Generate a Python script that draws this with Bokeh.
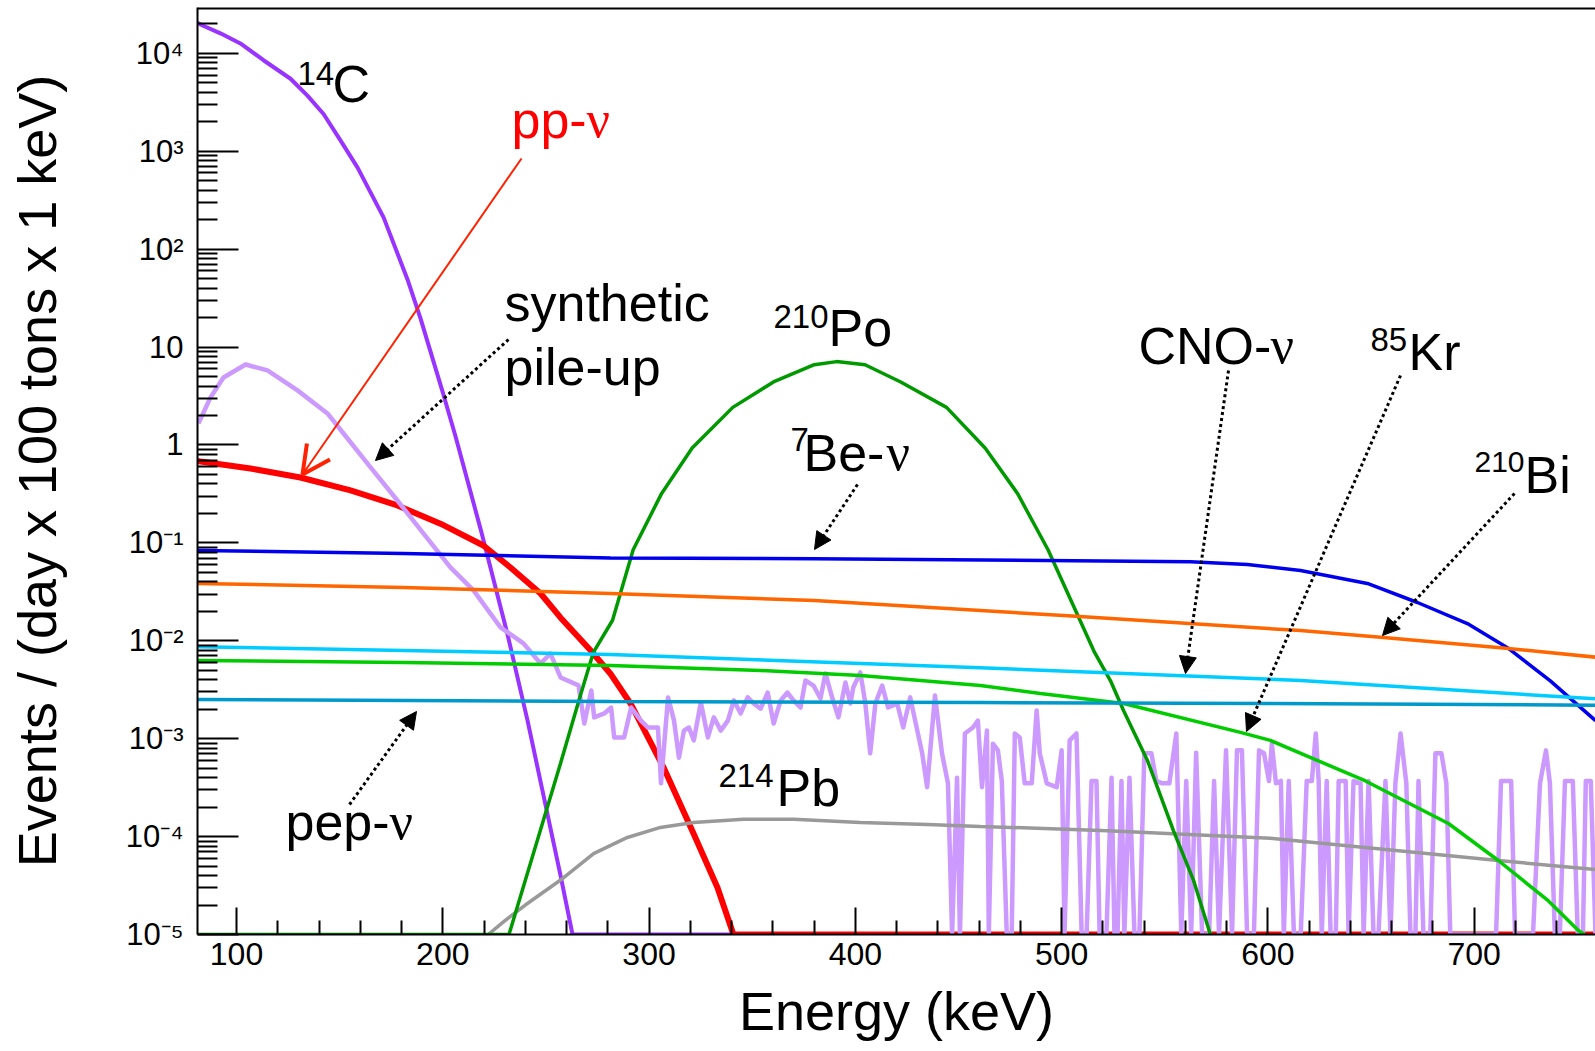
import math
from bokeh.plotting import figure
from bokeh.models import (Range1d, FixedTicker, Label, Arrow, NormalHead, OpenHead,
                          Span, CustomJSTickFormatter)
from bokeh.embed import file_html
from bokeh.resources import INLINE

# ---------------- data (energy in keV, rate in events/(day x 100 t x keV)) ----------------
c14_E = [81.1, 82.5, 92.2, 101.9, 113.1, 126.2, 134.4, 142.2, 150.4, 158.7, 171.3, 182.9,
         189.2, 200.3, 206.2, 218.3, 231.4, 241.1, 257.1, 262.9, 758.8]
c14_y = [2.05e4, 1.97e4, 1.60e4, 1.26e4, 8.5e3, 5.5e3, 3.7e3, 2.4e3, 1.29e3, 680, 211, 49,
         19.6, 3.28, 1.22, 0.139, 0.0116, 1.53e-3, 4.0e-5, 1e-5, 1e-5]

pp_E = [81.1, 82.5, 106.8, 131.0, 155.3, 178.0, 200.3, 219.7, 232.8, 247.4, 257.1, 271.6,
        281.3, 291.0, 307.0, 321.5, 333.2, 340.9, 758.8]
pp_y = [0.685, 0.678, 0.575, 0.465, 0.343, 0.241, 0.152, 0.094, 0.056, 0.0304, 0.0172,
        8.0e-3, 4.6e-3, 2.29e-3, 5.1e-4, 1.08e-4, 3.0e-5, 1e-5, 1e-5]

pu_E = [81.6, 87.4, 93.7, 104.4, 115.0, 129.6, 144.1, 151.9, 165.0, 178.0, 190.6, 203.7,
        214.9, 228.0, 239.1, 247.4, 252.2, 257.1, 265.8,
        268.6, 272.0, 273.4, 278.3, 281.6, 283.1, 287.9, 291.3, 296.1, 299.5, 304.3, 305.8,
        309.2, 312.1, 314.5, 316.9, 319.3, 321.7, 325.1, 328.5, 331.4, 334.8, 338.2, 341.1,
        344.4, 347.8, 350.7, 354.1, 357.5, 360.4, 363.8, 367.1, 370.0, 373.4, 375.8, 379.7,
        383.1, 385.5, 388.9, 391.8, 395.2, 397.6, 399.0, 402.4, 404.8, 407.2, 409.7, 413.0,
        415.9, 420.3, 423.2, 426.6, 429.0, 432.4, 434.8, 438.6, 442.0, 444.9, 446.9, 449.3,
        450.7, 453.1, 457.0, 459.4,
        461.4, 463.8, 464.7, 466.7, 469.1, 471.0, 473.4, 475.8, 477.3, 479.7, 482.1, 485.5,
        487.9, 489.4, 492.8, 497.6, 500.0, 501.4, 503.9, 507.2, 509.7, 512.1, 514.5, 516.9,
        518.4, 521.7, 524.2, 525.6, 527.1, 529.0, 530.4, 532.9, 535.3, 537.7, 540.1, 543.5,
        545.9, 548.8, 552.2, 555.6, 558.0, 560.4, 562.8, 565.2, 568.1, 571.5, 573.9, 576.3,
        579.7, 582.6, 585.0, 587.4, 589.9, 593.2, 595.7,
        598.1, 600.5, 601.9, 603.9, 606.3, 607.7, 610.1, 612.6, 615.9, 618.8, 621.3, 623.2,
        624.6, 626.1, 628.5, 630.4, 632.9, 634.3, 637.7, 639.1, 641.5, 644.9, 646.4, 648.8,
        651.2, 653.6, 657.0, 659.4, 661.8, 664.3, 667.1, 669.1, 671.5, 673.0, 675.4, 678.7,
        681.2, 684.1, 686.5, 688.4, 710.6, 713.0, 717.9, 719.8, 728.5, 731.9, 734.8, 736.7,
        739.1, 741.5, 744.0, 747.8, 750.2, 752.7, 754.1, 756.5, 758.8]
pu_y = [1.66, 3.06, 4.89, 6.64, 5.77, 3.61, 2.10, 1.31, 0.589, 0.271, 0.125, 0.0561,
        0.0327, 0.0137, 9.4e-3, 5.86e-3, 7.4e-3, 4.22e-3, 3.5e-3,
        1.43e-3, 3.11e-3, 1.65e-3, 1.81e-3, 2.08e-3, 1.03e-3, 1.03e-3, 2.08e-3, 1.53e-3,
        1.30e-3, 1.30e-3, 3.5e-4, 2.64e-3, 1.53e-3, 6.4e-4, 1.21e-3, 1.30e-3, 9.6e-4,
        2.34e-3, 1.03e-3, 1.65e-3, 1.21e-3, 1.53e-3, 2.46e-3, 1.81e-3, 2.64e-3, 2.29e-3,
        2.03e-3, 2.96e-3, 1.43e-3, 2.46e-3, 2.96e-3, 2.46e-3, 2.08e-3, 3.93e-3, 3.49e-3,
        2.57e-3, 4.64e-3, 2.57e-3, 1.65e-3, 3.75e-3, 2.29e-3, 3.33e-3, 4.75e-3, 2.34e-3,
        7.1e-4, 2.29e-3, 3.49e-3, 2.08e-3, 2.29e-3, 1.30e-3, 2.64e-3, 1.53e-3, 7.1e-4,
        3.2e-4, 2.76e-3, 7.1e-4, 3.5e-4, 1e-5, 4.0e-4, 1e-5, 1.13e-3, 1.30e-3, 1.53e-3,
        3.2e-4, 1.21e-3, 1e-5, 8.9e-4, 7.6e-4, 3.7e-4, 1e-5, 1e-5, 1.13e-3, 1.03e-3, 3.5e-4,
        3.5e-4, 1.94e-3, 7.1e-4, 3.5e-4, 3.2e-4, 7.6e-4, 1e-5, 9.6e-4, 1.13e-3, 1e-5, 1e-5,
        3.7e-4, 3.7e-4, 1e-5, 1e-5, 4.0e-4, 1e-5, 1e-5, 3.7e-4, 1e-5, 4.0e-4, 1e-5, 1e-5,
        7.1e-4, 7.1e-4, 3.7e-4, 3.5e-4, 3.5e-4, 1.13e-3, 1e-5, 3.7e-4, 1e-5, 7.2e-4, 1e-5,
        1e-5, 3.7e-4, 1e-5, 7.6e-4, 1e-5, 7.6e-4, 7.6e-4, 1e-5, 1e-5, 7.6e-4,
        7.1e-4, 3.7e-4, 8.9e-4, 3.5e-4, 3.7e-4, 1e-5, 3.7e-4, 1e-5, 1e-5, 3.7e-4, 3.7e-4,
        1.13e-3, 3.7e-4, 1e-5, 3.7e-4, 1e-5, 1e-5, 3.7e-4, 3.7e-4, 1e-5, 3.7e-4, 3.5e-4,
        1e-5, 3.7e-4, 1e-5, 1e-5, 3.7e-4, 1e-5, 3.5e-4, 1.13e-3, 3.5e-4, 1e-5, 1e-5, 3.7e-4,
        1e-5, 1e-5, 7.1e-4, 7.1e-4, 3.5e-4, 1e-5, 1e-5, 3.7e-4, 3.7e-4, 1e-5, 1e-5, 3.5e-4,
        7.6e-4, 3.5e-4, 1e-5, 1e-5, 3.7e-4, 3.7e-4, 1e-5, 1e-5, 3.7e-4, 3.7e-4, 1e-5]

po_E = [81.1, 232.1, 257.1, 266.7, 273.0, 282.3, 292.3, 306.1, 320.9, 340.6, 360.3, 380.1,
        390.9, 404.7, 422.0, 444.2, 462.9, 478.6, 493.4, 515.7, 523.7, 530.0, 541.6, 554.2,
        563.9, 572.1]
po_y = [1e-5, 1e-5, 5.6e-4, 2.76e-3, 7.6e-3, 0.0162, 0.085, 0.32, 0.93, 2.42, 4.4, 6.6,
        7.1, 6.6, 4.4, 2.42, 0.93, 0.32, 0.085, 7.8e-3, 3.9e-3, 1.94e-3, 6.0e-4, 1.15e-4,
        3.6e-5, 1e-5]

be_E = [81.1, 181.0, 281.3, 380.2, 562.4, 590.0, 615.8, 648.2, 672.5, 696.7, 716.1, 736.9,
        758.8]
be_y = [0.0836, 0.078, 0.070, 0.069, 0.064, 0.060, 0.0523, 0.0385, 0.0246, 0.0150, 8.5e-3,
        3.9e-3, 1.53e-3]

bi_E = [81.1, 181.0, 281.3, 380.2, 503.0, 615.8, 656.0, 712.7, 758.8]
bi_y = [0.0385, 0.035, 0.0304, 0.0258, 0.018, 0.0127, 0.0108, 8.5e-3, 6.8e-3]

cno_E = [81.1, 181.0, 281.3, 460.6, 615.8, 758.8]
cno_y = [8.7e-3, 7.96e-3, 7.25e-3, 5.3e-3, 3.93e-3, 2.55e-3]

kr_E = [81.1, 181.0, 281.3, 354.0, 402.5, 460.6, 489.7, 530.0, 586.7, 601.2, 647.3, 687.5,
        711.7, 736.0, 750.5, 753.5]
kr_y = [6.3e-3, 6.0e-3, 5.6e-3, 4.97e-3, 4.43e-3, 3.49e-3, 2.89e-3, 2.29e-3, 1.16e-3,
        9.6e-4, 3.7e-4, 1.36e-4, 5.7e-5, 2.2e-5, 1.1e-5, 1e-5]

pep_E = [81.1, 281.3, 460.6, 600.0, 758.8]
pep_y = [2.51e-3, 2.40e-3, 2.34e-3, 2.29e-3, 2.2e-3]

pb_E = [222.0, 230.0, 240.0, 257.1, 273.1, 289.5, 305.5, 321.5, 345.8, 370.0, 402.5, 435.0,
        460.6, 522.2, 601.2, 711.7, 758.8]
pb_y = [1e-5, 1.38e-5, 2.0e-5, 3.6e-5, 6.7e-5, 9.8e-5, 1.24e-4, 1.39e-4, 1.50e-4, 1.50e-4,
        1.39e-4, 1.33e-4, 1.27e-4, 1.15e-4, 9.6e-5, 5.7e-5, 4.6e-5]

x_major = [100, 200, 300, 400, 500, 600, 700]
x_minor = [v for v in range(120, 760, 20) if v % 100 != 0]
y_exps = [4, 3, 2, 1, 0, -1, -2, -3, -4, -5]

# ---------------- layout ----------------
W, H = 1595, 1051
FL, FR, FT, FB = 197, 1595, 7, 934
X0, X1 = 81.1, 758.8
LY0, LY1 = -5.0, 4.468
SANS = "Liberation Sans"
SERIF = "Liberation Serif"

p = figure(width=W, height=H, x_range=Range1d(X0, X1),
           y_range=Range1d(10 ** LY0, 10 ** LY1), y_axis_type="log",
           output_backend="svg", toolbar_location=None,
           min_border_left=FL, min_border_right=W - FR, min_border_top=FT,
           min_border_bottom=H - FB)
p.background_fill_color = "white"
p.border_fill_color = "white"
p.outline_line_color = None
p.xgrid.grid_line_color = None
p.ygrid.grid_line_color = None

xa = p.xaxis[0]
xa.ticker = FixedTicker(ticks=x_major, minor_ticks=x_minor)
xa.axis_line_width = 2
xa.major_tick_in = 27
xa.major_tick_out = 0
xa.minor_tick_in = 14
xa.minor_tick_out = 0
xa.major_tick_line_width = 2
xa.minor_tick_line_width = 2
xa.major_label_text_font = SANS
xa.major_label_text_font_size = "32px"
xa.major_label_text_color = "black"
xa.major_label_standoff = 8
xa.axis_label = "Energy (keV)"
xa.axis_label_text_font = SANS
xa.axis_label_text_font_size = "54px"
xa.axis_label_text_font_style = "normal"
xa.axis_label_text_color = "black"
xa.axis_label_standoff = 13

ya = p.yaxis[0]
ya.ticker = FixedTicker(ticks=[10.0 ** e for e in y_exps],
                        minor_ticks=[m * 10.0 ** e for e in y_exps for m in range(2, 10)])
ya.formatter = CustomJSTickFormatter(code="""
const e = Math.round(Math.log10(tick));
if (e === 0) { return "1"; }
if (e === 1) { return "10"; }
const sup = {"-": "\u207b", "0": "\u2070", "1": "\u00b9", "2": "\u00b2", "3": "\u00b3",
             "4": "\u2074", "5": "\u2075", "6": "\u2076", "7": "\u2077", "8": "\u2078",
             "9": "\u2079"};
let s = "";
for (const c of String(e)) { s += sup[c]; }
return "10" + s;
""")
ya.axis_line_width = 2
ya.major_tick_in = 41
ya.major_tick_out = 0
ya.minor_tick_in = 20
ya.minor_tick_out = 0
ya.major_tick_line_width = 2
ya.minor_tick_line_width = 2
ya.major_label_standoff = 14
ya.major_label_text_font = SANS
ya.major_label_text_font_size = "31px"
ya.major_label_text_color = "black"
ya.axis_label = "Events / (day x 100 tons x 1 keV)"
ya.axis_label_text_font = SANS
ya.axis_label_text_font_size = "54px"
ya.axis_label_text_font_style = "normal"
ya.axis_label_text_color = "black"
ya.axis_label_standoff = 56

p.add_layout(Span(location=10 ** LY1, dimension="width", line_color="black", line_width=4))

# ---------------- curves ----------------
p.line(c14_E, c14_y, line_color="#9933FF", line_width=4)
p.line(pp_E, pp_y, line_color="#FF0000", line_width=6)
p.line(pu_E, pu_y, line_color="#CC99FF", line_width=4.5, line_join="round")
p.line(pb_E, pb_y, line_color="#999999", line_width=3.5)
p.line(po_E, po_y, line_color="#009900", line_width=3.5)
p.line(be_E, be_y, line_color="#0000EE", line_width=3.5)
p.line(bi_E, bi_y, line_color="#FF6600", line_width=3.5)
p.line(cno_E, cno_y, line_color="#00CCFF", line_width=3.5)
p.line(kr_E, kr_y, line_color="#00CC00", line_width=3.5)
p.line(pep_E, pep_y, line_color="#0099CC", line_width=3.5)


# ---------------- annotations ----------------
def px(X, Y):
    x = X0 + (X - FL) * (X1 - X0) / (FR - FL)
    y = 10 ** (LY0 + (FB - Y) * (LY1 - LY0) / (FB - FT))
    return x, y


def lab(X, Y, text, size, color="black", font=SANS):
    x, y = px(X, Y - (0.25 * size + 1))
    p.add_layout(Label(x=x, y=y, text=text, text_font=font, text_font_size=f"{size}px",
                       text_color=color, text_align="left", text_baseline="alphabetic"))


def arrow(Xs, Ys, Xe, Ye, color="black", dotted=True, open_head=False):
    xs, ys = px(Xs, Ys)
    xe, ye = px(Xe, Ye)
    if open_head:
        head = OpenHead(size=28, line_color=color, line_width=4)
    else:
        head = NormalHead(size=17, fill_color=color, line_color=color, line_width=1)
    p.add_layout(Arrow(end=head, x_start=xs, y_start=ys, x_end=xe, y_end=ye,
                       line_color=color, line_width=3 if dotted else 2,
                       line_dash="3 3" if dotted else "solid"))


# component labels
lab(297, 82, "14", 33)
lab(332, 97, "C", 52)
lab(511, 133, "pp-", 52, color="#FF0000")
lab(586, 133, "\u03bd", 52, color="#FF0000", font=SERIF)
lab(504, 316, "synthetic", 52)
lab(504, 380, "pile-up", 52)
lab(773, 325, "210", 33)
lab(828, 341, "Po", 52)
lab(790, 448, "7", 33)
lab(803, 466, "Be-", 52)
lab(886, 466, "\u03bd", 52, font=SERIF)
lab(1138, 359, "CNO-", 52)
lab(1270, 359, "\u03bd", 52, font=SERIF)
lab(1370, 348, "85", 33)
lab(1408, 365, "Kr", 52)
lab(1474, 470, "210", 30)
lab(1524, 488, "Bi", 52)
lab(718, 784, "214", 33)
lab(776, 801, "Pb", 52)
lab(285, 835, "pep-", 52)
lab(389, 835, "\u03bd", 52, font=SERIF)

# arrows
arrow(521, 158, 302, 474, color="#FF2200", dotted=False, open_head=True)
arrow(508, 339, 375, 460)
arrow(857, 484, 814, 549)
arrow(1228, 370, 1185, 673)
arrow(1400, 375, 1246, 731)
arrow(1514, 493, 1382, 635)
arrow(349, 804, 416, 711)

open("out.html", "w", encoding="utf-8").write(file_html(p, INLINE))
